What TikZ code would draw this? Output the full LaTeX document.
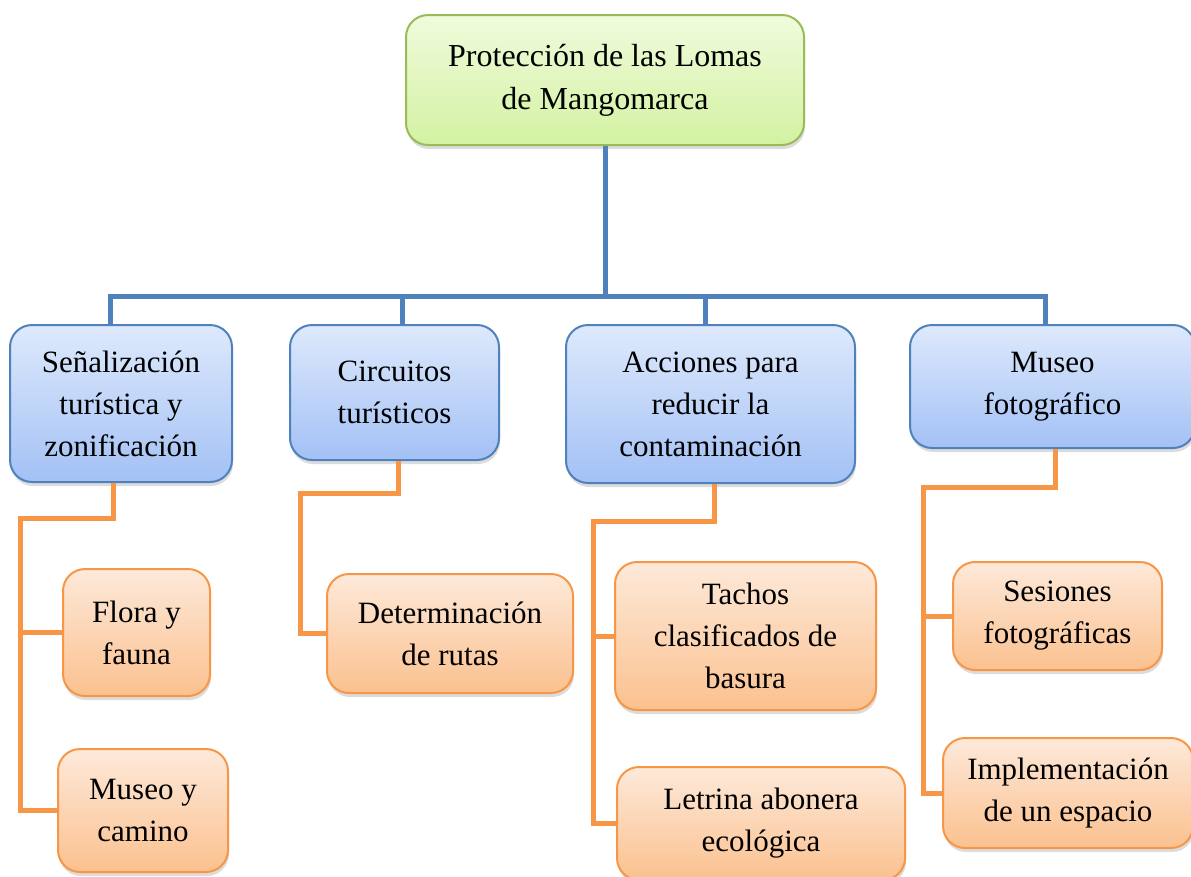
\documentclass[tikz,border=0pt]{standalone}
\usepackage{fontspec}
\setmainfont{Liberation Serif}
\usetikzlibrary{shadows,calc}
\definecolor{gborder}{HTML}{9BBB59}
\definecolor{gtop}{HTML}{F0FBDC}
\definecolor{gbot}{HTML}{D3F2A2}
\definecolor{bborder}{HTML}{4F81BD}
\definecolor{btop}{HTML}{DEE9FC}
\definecolor{bbot}{HTML}{A3C1F5}
\definecolor{oborder}{HTML}{F79646}
\definecolor{otop}{HTML}{FDE9DA}
\definecolor{obot}{HTML}{FBC18F}
\begin{document}
\begin{tikzpicture}[x=1pt,y=-1pt,
  box/.style={rounded corners=22pt, align=center, inner sep=0pt, line width=2pt,
    font=\fontsize{31}{42}\selectfont,
    drop shadow={opacity=0.28, shadow xshift=1pt, shadow yshift=-4pt}},
  greenbox/.style={box, draw=gborder, top color=gtop, bottom color=gbot},
  bluebox/.style={box, draw=bborder, top color=btop, bottom color=bbot},
  orangebox/.style={box, draw=oborder, top color=otop, bottom color=obot},
  bl/.style={draw=bborder, line width=5pt},
  oc/.style={draw=oborder, line width=5pt},
]
\useasboundingbox (0,0) rectangle (1191,876);
\begin{scope}
\clip (0,0) rectangle (1191,876);
% top
\node[greenbox, minimum width=398pt, minimum height=130pt, font=\fontsize{32}{43}\selectfont] (top) at (605,80) {Protección de las Lomas\\de Mangomarca};
% level 1
\node[bluebox, minimum width=222pt, minimum height=157pt] (b1) at (121,403.5) {Señalización\\turística y\\zonificación};
\node[bluebox, minimum width=209pt, minimum height=135pt] (b2) at (394.5,392.5) {Circuitos\\turísticos};
\node[bluebox, minimum width=289pt, minimum height=158pt] (b3) at (710.5,404) {Acciones para\\reducir la\\contaminación};
\node[bluebox, minimum width=285pt, minimum height=123pt] (b4) at (1052.5,386.5) {Museo\\fotográfico};
% level 2
\node[orangebox, minimum width=147pt, minimum height=127pt] (fl) at (136.5,632.5) {Flora y\\fauna};
\node[orangebox, minimum width=170pt, minimum height=123pt] (mc) at (143,810.5) {Museo y\\camino};
\node[orangebox, minimum width=246pt, minimum height=119pt] (dr) at (450,633.5) {Determinación\\de rutas};
\node[orangebox, minimum width=261pt, minimum height=148pt] (ta) at (745.5,636) {Tachos\\clasificados de\\basura};
\node[orangebox, minimum width=288pt, minimum height=113pt] (le) at (761,823.5) {Letrina abonera\\ecológica};
\node[orangebox, minimum width=209pt, minimum height=108pt] (se) at (1057.5,616) {Sesiones\\fotográficas};
\node[orangebox, minimum width=250pt, minimum height=110pt] (im) at (1068,793) {Implementación\\de un espacio};
\end{scope}
% blue tree
\draw[bl] (top.south) -- ++(0,152);
\draw[bl] ([xshift=-11pt]b1.north) -- ++(0,-28) -| ([xshift=-7.5pt]b4.north);
\draw[bl] ([xshift=7.5pt]b2.north) -- ++(0,-28);
\draw[bl] ([xshift=-5.5pt]b3.north) -- ++(0,-28);
% orange connectors
\draw[oc] ([xshift=-8pt]b1.south) |- (20,518) |- (mc.west);
\draw[oc] (fl.west) -- (fl.west -| 20,0);
\draw[oc] ([xshift=3.5pt]b2.south) |- (300,493) |- (dr.west);
\draw[oc] ([xshift=3.5pt]b3.south) |- (593,521) |- (le.west);
\draw[oc] (ta.west) -- (ta.west -| 593,0);
\draw[oc] ([xshift=2.5pt]b4.south) |- (923,487) |- (im.west);
\draw[oc] (se.west) -- (se.west -| 923,0);
\end{tikzpicture}
\end{document}
